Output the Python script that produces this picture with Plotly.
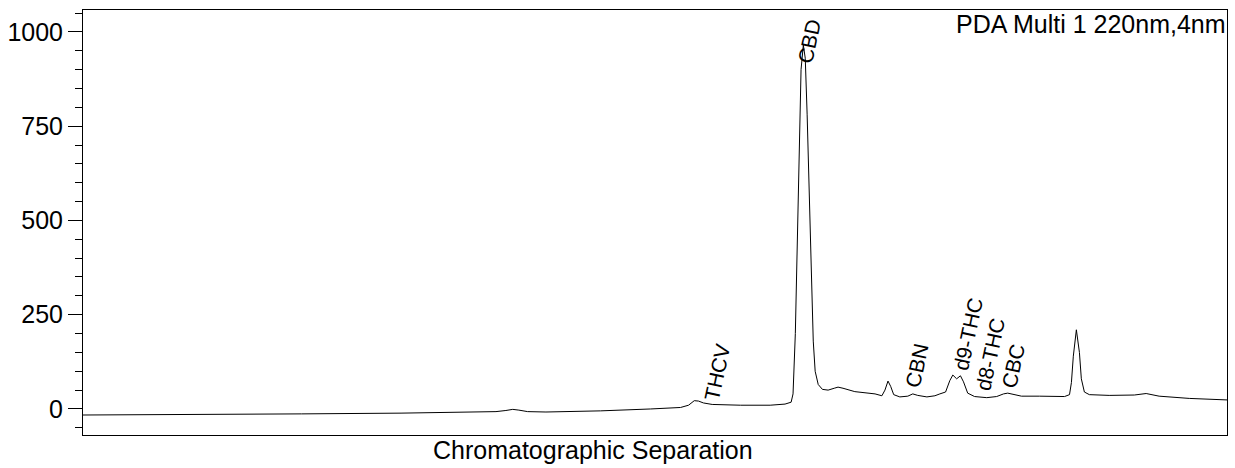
import plotly.graph_objects as go

# Retention time (min) and detector response (mAU)
time_min = [0.00, 3.11, 5.73, 8.34, 10.44, 10.83, 11.09, 11.27, 11.43, 11.66, 12.14,
            13.57, 14.88, 15.67, 15.88, 16.03, 16.14, 16.27, 16.50, 17.24, 18.02,
            18.41, 18.57, 18.62, 18.68, 18.73, 18.78, 18.83, 18.89, 18.94, 18.99,
            19.05, 19.10, 19.15, 19.20, 19.28, 19.39, 19.54, 19.70, 19.80, 19.93,
            20.24, 20.77, 20.95, 21.03, 21.11, 21.18, 21.26, 21.42, 21.63, 21.76,
            21.89, 22.13, 22.34, 22.47, 22.62, 22.73, 22.81, 22.91, 23.01, 23.09,
            23.20, 23.38, 23.70, 23.96, 24.14, 24.25, 24.40, 24.61, 25.08, 25.74,
            25.87, 25.92, 25.97, 26.05, 26.13, 26.18, 26.26, 26.39, 26.91, 27.57,
            27.88, 28.22, 29.01, 30.00]
response = [-16, -15, -13, -11, -8, -7, -4, -1, -3, -7, -8,
            -5, 0, 4, 10, 22, 21, 16, 12, 10, 10,
            13, 18, 40, 200, 450, 720, 900, 965, 930, 780,
            560, 340, 180, 100, 65, 52, 50, 55, 58, 55,
            46, 40, 35, 50, 74, 60, 38, 32, 34, 40,
            36, 32, 35, 40, 45, 75, 90, 80, 88, 72,
            42, 33, 30, 33, 40, 42, 38, 34, 34, 33,
            38, 70, 140, 210, 150, 80, 45, 38, 36, 37,
            41, 34, 28, 24]

# Peak labels: name, label time, label base response
peak_names = ["THCV", "CBD", "CBN", "d9-THC", "d8-THC", "CBC"]
peak_times = [16.63, 19.04, 21.87, 23.20, 23.78, 24.40]
peak_label_y = [10, 905, 45, 90, 37, 45]

y_ticks = [0, 250, 500, 750, 1000]

FONT = "Liberation Sans, Arial, sans-serif"

fig = go.Figure()
fig.add_trace(go.Scatter(x=time_min, y=response, mode="lines",
                         line=dict(color="black", width=1), showlegend=False,
                         hoverinfo="skip"))

for name, t, yv in zip(peak_names, peak_times, peak_label_y):
    fig.add_annotation(x=t, y=yv, xref="x", yref="y", text=name, showarrow=False,
                       textangle=-78, xanchor="center", yanchor="bottom",
                       font=dict(family=FONT, size=21, color="black"))

fig.add_annotation(x=1, y=1, xref="paper", yref="paper", text="PDA Multi 1 220nm,4nm",
                   showarrow=False, xanchor="right", yanchor="top", xshift=1, yshift=2,
                   font=dict(family=FONT, size=25, color="black"))

fig.add_annotation(x=0.4455, y=0, xref="paper", yref="paper",
                   text="Chromatographic Separation", showarrow=False,
                   xanchor="center", yanchor="top", yshift=1,
                   font=dict(family=FONT, size=25, color="black"))

fig.update_layout(
    width=1235, height=468,
    margin=dict(l=81, r=7, t=10, b=33),
    paper_bgcolor="white", plot_bgcolor="white",
    font=dict(family=FONT, size=24, color="black"),
    xaxis=dict(range=[0, 30], showgrid=False, zeroline=False, showticklabels=False,
               ticks="", showline=True, linecolor="black", linewidth=1, mirror=True),
    yaxis=dict(range=[-69, 1058], showgrid=False, zeroline=False,
               tickmode="array", tickvals=y_ticks, ticktext=[str(v) for v in y_ticks],
               ticks="outside", ticklen=14, tickwidth=1, tickcolor="black",
               minor=dict(dtick=50, tick0=0, ticks="outside", ticklen=7,
                          tickcolor="black", tickwidth=1),
               showline=True, linecolor="black", linewidth=1, mirror=True,
               tickfont=dict(family=FONT, size=25, color="black")),
)

fig.write_html("out.html", config={"displayModeBar": False},
               post_script="document.body.style.margin='0';")
